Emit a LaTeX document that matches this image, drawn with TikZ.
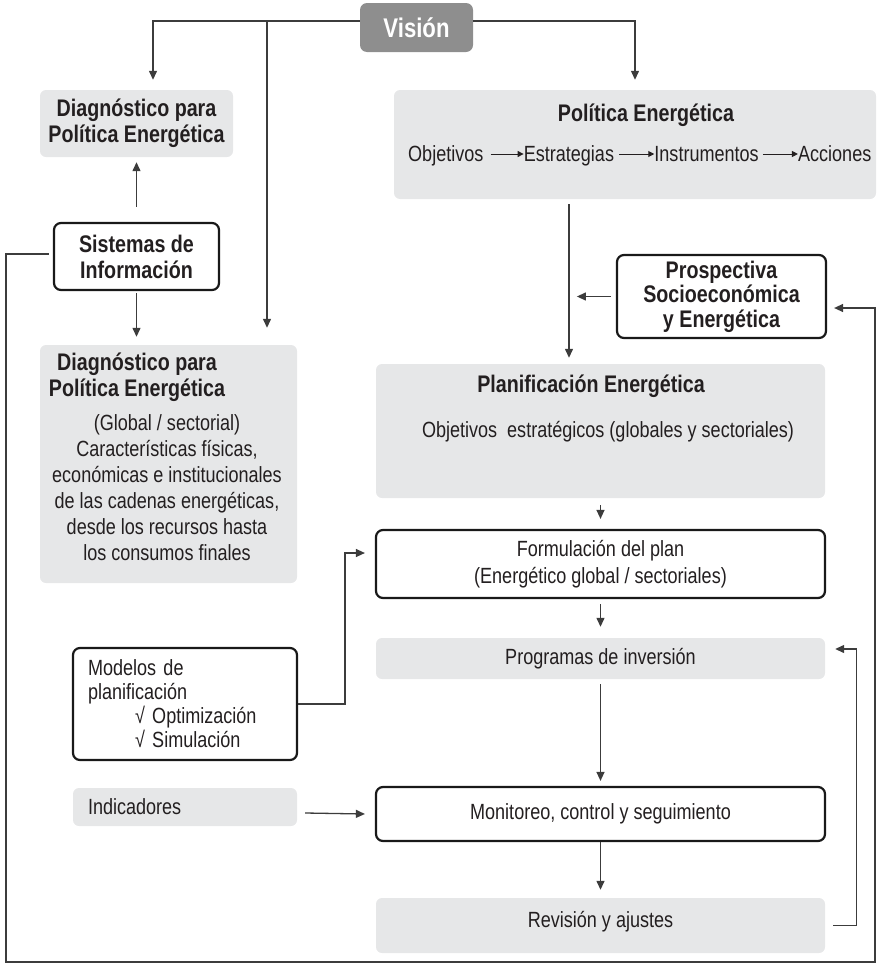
\documentclass[tikz,border=0pt]{standalone}
\usepackage{fontspec}
\setmainfont{Liberation Sans}[FakeStretch=0.82]
\usetikzlibrary{arrows.meta,positioning}
\definecolor{boxgrey}{HTML}{E6E7E8}
\definecolor{visgrey}{HTML}{8E8E8E}
\definecolor{linkgrey}{HTML}{3C3C3C}
\definecolor{ink}{HTML}{231F20}
\tikzset{
  txt/.style={font=\fontsize{22}{26}\selectfont, text=ink},
  heavy/.style={font=\bfseries\fontsize{24}{26}\selectfont, text=ink},
  greybox/.style={fill=boxgrey, draw=none, rounded corners=6pt, inner sep=0pt, align=center},
  whitebox/.style={draw=black!90, line width=2.2pt, rounded corners=7pt, fill=white, inner sep=0pt, align=center},
  visbox/.style={fill=visgrey, rounded corners=7pt, inner sep=0pt, text=white, font=\bfseries\fontsize{27}{30}\selectfont},
  link/.style={-{Triangle[length=9pt,width=8pt]}, line width=1.3pt, draw=linkgrey},
  minilink/.style={-{Triangle[length=6pt,width=6pt]}, line width=1pt, draw=ink}
}

\begin{document}
\begin{tikzpicture}[x=1pt, y=-1pt]
  \useasboundingbox (0,0) rectangle (877,964);

  % left column
  \node[visbox, minimum width=113pt, minimum height=49pt] (vision) at (416.5,27.5) {Visión};
  \node[greybox, heavy, minimum width=193pt, minimum height=67pt] (diagA) at (136.5,123.5) {Diagnóstico para\\Política Energética};
  \node[whitebox, heavy, minimum width=165pt, minimum height=67pt] (sis) at (136.5,256.5) {Sistemas de\\Información};
  \node[greybox, minimum width=257pt, minimum height=238pt] (diagB) at (168.5,464) {};
  \node[heavy, align=center, inner sep=0pt, anchor=north] (diagBtitle) at (137,353) {Diagnóstico para\\Política Energética};
  \node[txt, align=center, inner sep=0pt, anchor=north] (diagBtxt) at (167,414) {(Global / sectorial)\\Características físicas,\\económicas e institucionales\\de las cadenas energéticas,\\desde los recursos hasta\\los consumos finales};
  \node[whitebox, txt, align=left, text width=194pt, inner xsep=15pt, minimum height=112pt, font=\fontsize{22}{24}\selectfont] (model) at (185,704) {Modelos de\\planificación\\\hspace*{47pt}√ Optimización\\\hspace*{47pt}√ Simulación};
  \node[greybox, txt, align=left, text width=194pt, inner xsep=15pt, minimum height=38pt] (indic) at (185,807) {Indicadores};

  % right column
  \node[greybox, minimum width=482pt, minimum height=109pt] (politica) at (635,144.5) {};
  \node[heavy, anchor=base, inner sep=0pt] (poltitle) at (646,121) {Política Energética};
  \node[txt, anchor=base west, inner sep=0pt] (obj) at (408,161) {Objetivos};
  \node[txt, inner sep=0pt, base right=40pt of obj] (estr) {Estrategias};
  \node[txt, inner sep=0pt, base right=40pt of estr] (instr) {Instrumentos};
  \node[txt, inner sep=0pt, base right=39pt of instr] (acc) {Acciones};
  \node[whitebox, heavy, minimum width=209pt, minimum height=83pt, font=\bfseries\fontsize{24}{24.5}\selectfont] (prosp) at (721.5,296.5) {Prospectiva\\Socioeconómica\\y Energética};
  \node[greybox, minimum width=449pt, minimum height=134pt] (plan) at (600.5,431) {};
  \node[heavy, anchor=base, inner sep=0pt] (plantitle) at (591,392) {Planificación Energética};
  \node[txt, anchor=base, inner sep=0pt] (plantxt) at (608,437) {Objetivos\ \ estratégicos (globales y sectoriales)};
  \node[whitebox, txt, minimum width=449pt, minimum height=68pt, font=\fontsize{22}{27}\selectfont] (form) at (600.5,564) {Formulación del plan\\(Energético global / sectoriales)};
  \node[greybox, txt, minimum width=449pt, minimum height=41pt] (prog) at (600.5,658.5) {Programas de inversión};
  \node[whitebox, txt, minimum width=449pt, minimum height=54pt] (mon) at (600.5,814) {Monitoreo, control y seguimiento};
  \node[greybox, txt, minimum width=449pt, minimum height=55pt, text depth=12pt] (rev) at (600.5,925.5) {Revisión y ajustes};

  \coordinate (vj) at (267,21);
  \coordinate (cornerBL) at (6,962);
  \coordinate (cornerBR) at (875,962);

  % connectors
  \draw[link] ([yshift=6.5pt]vision.west) -| ([xshift=16.5pt,yshift=10pt]diagA.north);
  \draw[link, shorten >=17pt] (vj) -- (vj |- diagB.north);
  \draw[link] ([yshift=6.5pt]vision.east) -| ([yshift=10pt]politica.north);
  \draw[link, shorten <=15pt, shorten >=5pt] (sis) -- (diagA);
  \draw[link, shorten <=2pt, shorten >=8pt] (sis.south) -- (sis.south |- diagB.north);
  \draw[link] ([xshift=-4pt,yshift=2.5pt]sis.west) -| (cornerBL) -- (cornerBR) |- ([xshift=7pt,yshift=-11.5pt]prosp.east);

  \draw[minilink] ([xshift=7pt,yshift=7pt]obj.base east) -- ([yshift=7pt]estr.base west);
  \draw[minilink] ([xshift=5pt,yshift=7pt]estr.base east) -- ([yshift=7pt]instr.base west);
  \draw[minilink] ([xshift=4pt,yshift=7pt]instr.base east) -- ([yshift=7pt]acc.base west);

  \draw[link] ([xshift=-66pt,yshift=-5pt]politica.south) -- ([xshift=-31.5pt,yshift=6pt]plan.north);
  \draw[link] ([xshift=-5pt]prosp.west) -- ([xshift=-39pt]prosp.west);
  \draw[link, shorten <=7pt, shorten >=10pt] (plan) -- (form);
  \draw[link, shorten <=5pt, shorten >=11pt] (form) -- (prog);
  \draw[link, shorten <=5pt, shorten >=5pt] (prog) -- (mon);
  \draw[link, shorten >=8pt] (mon) -- (rev);
  \draw[link] ([xshift=8pt]rev.east) -- ([xshift=31pt]rev.east) |- ([xshift=10pt,yshift=9.5pt]prog.east);
  \draw[link] (model.east) -- ([xshift=47pt]model.east) |- ([xshift=-10pt,yshift=11pt]form.west);
  \draw[link] ([xshift=8pt,yshift=-6pt]indic.east) -- ([xshift=-10pt]mon.west);
\end{tikzpicture}
\end{document}
